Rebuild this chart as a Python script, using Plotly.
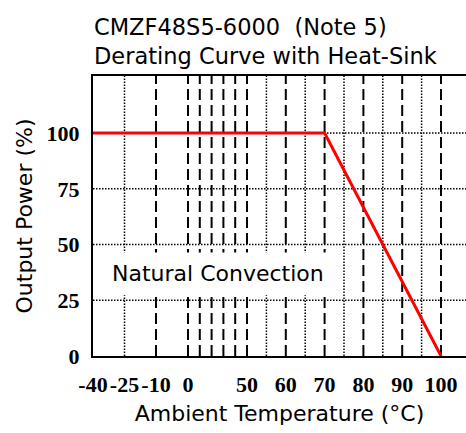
import numpy as np
import plotly.graph_objects as go

# ---- data ----
curve_temp = [-40, 70, 100]
curve_power = [100, 100, 0]

xtick_labels = [-40, -25, -10, 0, 50, 60, 70, 80, 90, 100]
ytick_vals = [0, 25, 50, 75, 100]

dashed_grid_temps = [-10, 0, 10, 20, 30, 40, 50, 60, 70, 80, 90, 100]
dotted_grid_temps = [-25, 55, 65, 75, 85, 95]
dotted_grid_power = [25, 50, 75, 100]

# ---- piecewise axis scale (temperature -> axis units) ----
scale_temp = [-40, -10, 0, 50, 100]
scale_pos = [0, 63, 95, 154, 348]


def sx(t):
    return np.interp(np.asarray(t, dtype=float), scale_temp, scale_pos)


X_RANGE = [0, 373]
Y_RANGE = [0, 125.6]

TXT = "DejaVu Sans"
TICKF = dict(family="Liberation Serif", size=22, color="black", weight="bold")

fig = go.Figure()

fig.add_trace(go.Scatter(
    x=sx(curve_temp), y=curve_power, mode="lines",
    line=dict(color="#ff0000", width=3), hoverinfo="skip", showlegend=False,
))

shapes = []
for t in dashed_grid_temps:
    xv = float(sx(t))
    shapes.append(dict(type="line", xref="x", yref="y", x0=xv, x1=xv, y0=0, y1=Y_RANGE[1],
                       line=dict(color="black", width=2, dash="11px,5px"), layer="below"))
for t in dotted_grid_temps:
    xv = float(sx(t))
    shapes.append(dict(type="line", xref="x", yref="y", x0=xv, x1=xv, y0=0, y1=Y_RANGE[1],
                       line=dict(color="black", width=1.5, dash="1.5px,1.5px"), layer="below"))
# white label box behind the annotation
shapes.append(dict(type="rect", xref="x", yref="y", x0=float(sx(-40)), x1=float(sx(73.5)),
                   y0=27.2, y1=46.4, fillcolor="white", line=dict(width=0), layer="below"))
for p in dotted_grid_power:
    shapes.append(dict(type="line", xref="x", yref="y", x0=X_RANGE[0], x1=X_RANGE[1], y0=p, y1=p,
                       line=dict(color="black", width=1.5, dash="1.5px,1.5px"), layer="below"))

fig.update_layout(
    width=466, height=433,
    margin=dict(l=93, r=0, t=76, b=77, autoexpand=False),
    paper_bgcolor="white", plot_bgcolor="white",
    shapes=shapes,
    title=dict(
        text="CMZF48S5-6000  (Note 5)<br>Derating Curve with Heat-Sink",
        x=94 / 466, xref="container", xanchor="left",
        y=1 - 35 / 433, yref="container", yanchor="middle",
        pad=dict(l=0, r=0, t=0, b=0),
        font=dict(family=TXT, size=22.5, color="black"),
    ),
    annotations=[dict(
        text="Natural Convection", x=float(sx(25.5)), y=37.2, xref="x", yref="y",
        showarrow=False, font=dict(family=TXT, size=22, color="black"),
    )],
)

fig.update_xaxes(
    range=X_RANGE, tickmode="array",
    tickvals=sx(xtick_labels).tolist(), ticktext=[str(v) for v in xtick_labels],
    showgrid=False, zeroline=False, ticks="", ticklabelstandoff=8,
    tickfont=TICKF, automargin=False,
    showline=True, linecolor="black", linewidth=2, mirror=True,
    title=dict(text="Ambient Temperature (°C)", font=dict(family=TXT, size=22, color="black"), standoff=9),
)
fig.update_yaxes(
    range=Y_RANGE, tickmode="array", tickvals=ytick_vals,
    showgrid=False, zeroline=False, ticks="", ticklabelstandoff=7,
    tickfont=TICKF, automargin=False,
    showline=True, linecolor="black", linewidth=2, mirror=True,
    title=dict(text="Output Power (%)", font=dict(family=TXT, size=22, color="black"), standoff=8),
)

fig.write_html("out.html", config={"displayModeBar": False},
               post_script="document.body.style.margin='0';")
